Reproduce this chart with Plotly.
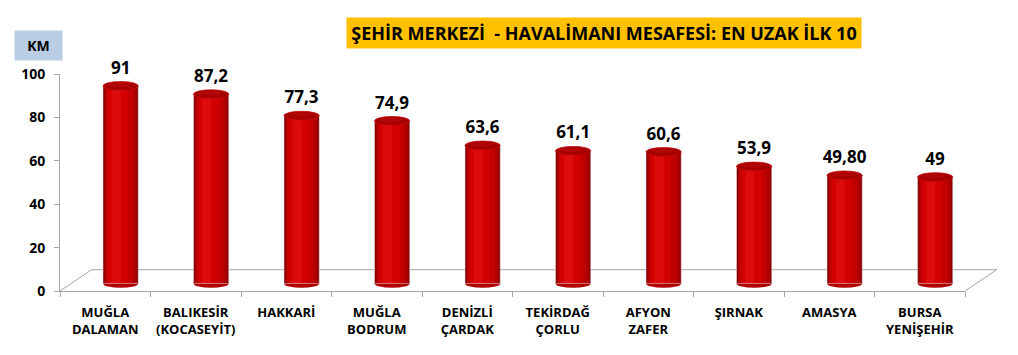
import plotly.graph_objects as go

categories = ["MUĞLA<br>DALAMAN", "BALIKESİR<br>(KOCASEYİT)", "HAKKARİ", "MUĞLA<br>BODRUM",
              "DENİZLİ<br>ÇARDAK", "TEKİRDAĞ<br>ÇORLU", "AFYON<br>ZAFER", "ŞIRNAK",
              "AMASYA", "BURSA<br>YENİŞEHİR"]
values = [91, 87.2, 77.3, 74.9, 63.6, 61.1, 60.6, 53.9, 49.8, 49]
value_labels = ["91", "87,2", "77,3", "74,9", "63,6", "61,1", "60,6", "53,9", "49,80", "49"]
y_ticks = [0, 20, 40, 60, 80, 100]

FONT = "Open Sans"
DEPTH_BASE = 3.5      # cylinder sits on the 3D floor
CENTER = 0.17         # cylinder offset toward the back
BAR_W = 0.39
ELL_H = 2.0           # half height of the ellipse caps (axis units)
FLOOR_BACK = 9.8
FLOOR_DX = 0.35

fig = go.Figure()

# shading layers: (width, center shift, color)
layers = [(BAR_W, 0.0, "#8c0000"), (0.35, 0.0, "#ad0000"), (0.30, -0.01, "#c20000"),
          (0.22, -0.03, "#d20000"), (0.10, -0.05, "#dc0c0c")]
for w, dc, col in layers:
    fig.add_trace(go.Bar(x=categories, y=values, base=[DEPTH_BASE] * len(values),
                         width=w, offset=CENTER + dc - w / 2,
                         marker=dict(color=col, line=dict(width=0)),
                         hoverinfo="skip", showlegend=False))

# labels
fig.add_trace(go.Bar(x=categories, y=[v + ELL_H for v in values], base=[DEPTH_BASE] * len(values),
                     width=BAR_W, offset=CENTER - BAR_W / 2,
                     marker=dict(color="rgba(0,0,0,0)"),
                     text=value_labels, textposition="outside", cliponaxis=False,
                     constraintext="none",
                     textfont=dict(family=FONT, size=17, color="black", weight="bold"),
                     hoverinfo="skip", showlegend=False))

shapes = []
# floor (paper coordinates so it is not clipped)
yb = FLOOR_BACK / 100
dxp = FLOOR_DX / 10
shapes.append(dict(type="path", xref="paper", yref="paper", layer="below",
                   path=f"M 0,0 L {dxp},{yb} L {1 + dxp},{yb} L 1,0",
                   line=dict(color="#a6a6a6", width=1)))
for i, v in enumerate(values):
    x0 = i + CENTER - BAR_W / 2
    x1 = i + CENTER + BAR_W / 2
    shapes.append(dict(type="circle", xref="x", yref="y", layer="below",
                       x0=x0, x1=x1, y0=DEPTH_BASE - ELL_H, y1=DEPTH_BASE + ELL_H,
                       fillcolor="#b00000", line=dict(width=0)))
    top = DEPTH_BASE + v
    shapes.append(dict(type="circle", xref="x", yref="y", layer="above",
                       x0=x0, x1=x1, y0=top - ELL_H, y1=top + ELL_H,
                       fillcolor="#a40000", line=dict(width=0.8, color="#c80a0a")))
    shapes.append(dict(type="circle", xref="x", yref="y", layer="above",
                       x0=x0 + 0.05, x1=x1 - 0.08, y0=top - ELL_H * 0.3, y1=top + ELL_H * 0.8,
                       fillcolor="#b20505", line=dict(width=0)))

fig.update_layout(
    width=1018, height=355,
    margin=dict(l=60, r=53, t=74, b=64),
    paper_bgcolor="white", plot_bgcolor="white",
    barmode="overlay",
    shapes=shapes,
    font=dict(family=FONT, color="black"),
    xaxis=dict(type="category", tickson="boundaries", ticks="outside", ticklen=5,
               tickcolor="#a6a6a6", showline=True, linecolor="#a6a6a6", linewidth=1,
               showgrid=False, range=[-0.5, 9.5], ticklabelstandoff=9,
               tickfont=dict(family=FONT, size=13, color="black", weight="bold")),
    yaxis=dict(range=[0, 100], tickvals=y_ticks, ticks="outside", ticklen=5,
               tickcolor="#a6a6a6", showline=True, linecolor="#a6a6a6", linewidth=1,
               showgrid=False, zeroline=False, ticklabelstandoff=6,
               tickfont=dict(family=FONT, size=14, color="black", weight="bold")),
    annotations=[
        dict(text="<b>ŞEHİR MERKEZİ  - HAVALİMANI MESAFESİ: EN UZAK İLK 10</b>",
             xref="paper", yref="paper", x=0.601, y=1.189, xanchor="center", yanchor="middle",
             showarrow=False, bgcolor="#ffc000", width=512, height=28,
             font=dict(family=FONT, size=18, color="black")),
        dict(text="<b>KM</b>", xref="paper", yref="paper", x=-0.0238, y=1.131,
             xanchor="center", yanchor="middle", showarrow=False, bgcolor="#b9cde5",
             width=45, height=27, font=dict(family=FONT, size=14, color="black")),
    ],
)

fig.write_html("out.html")
